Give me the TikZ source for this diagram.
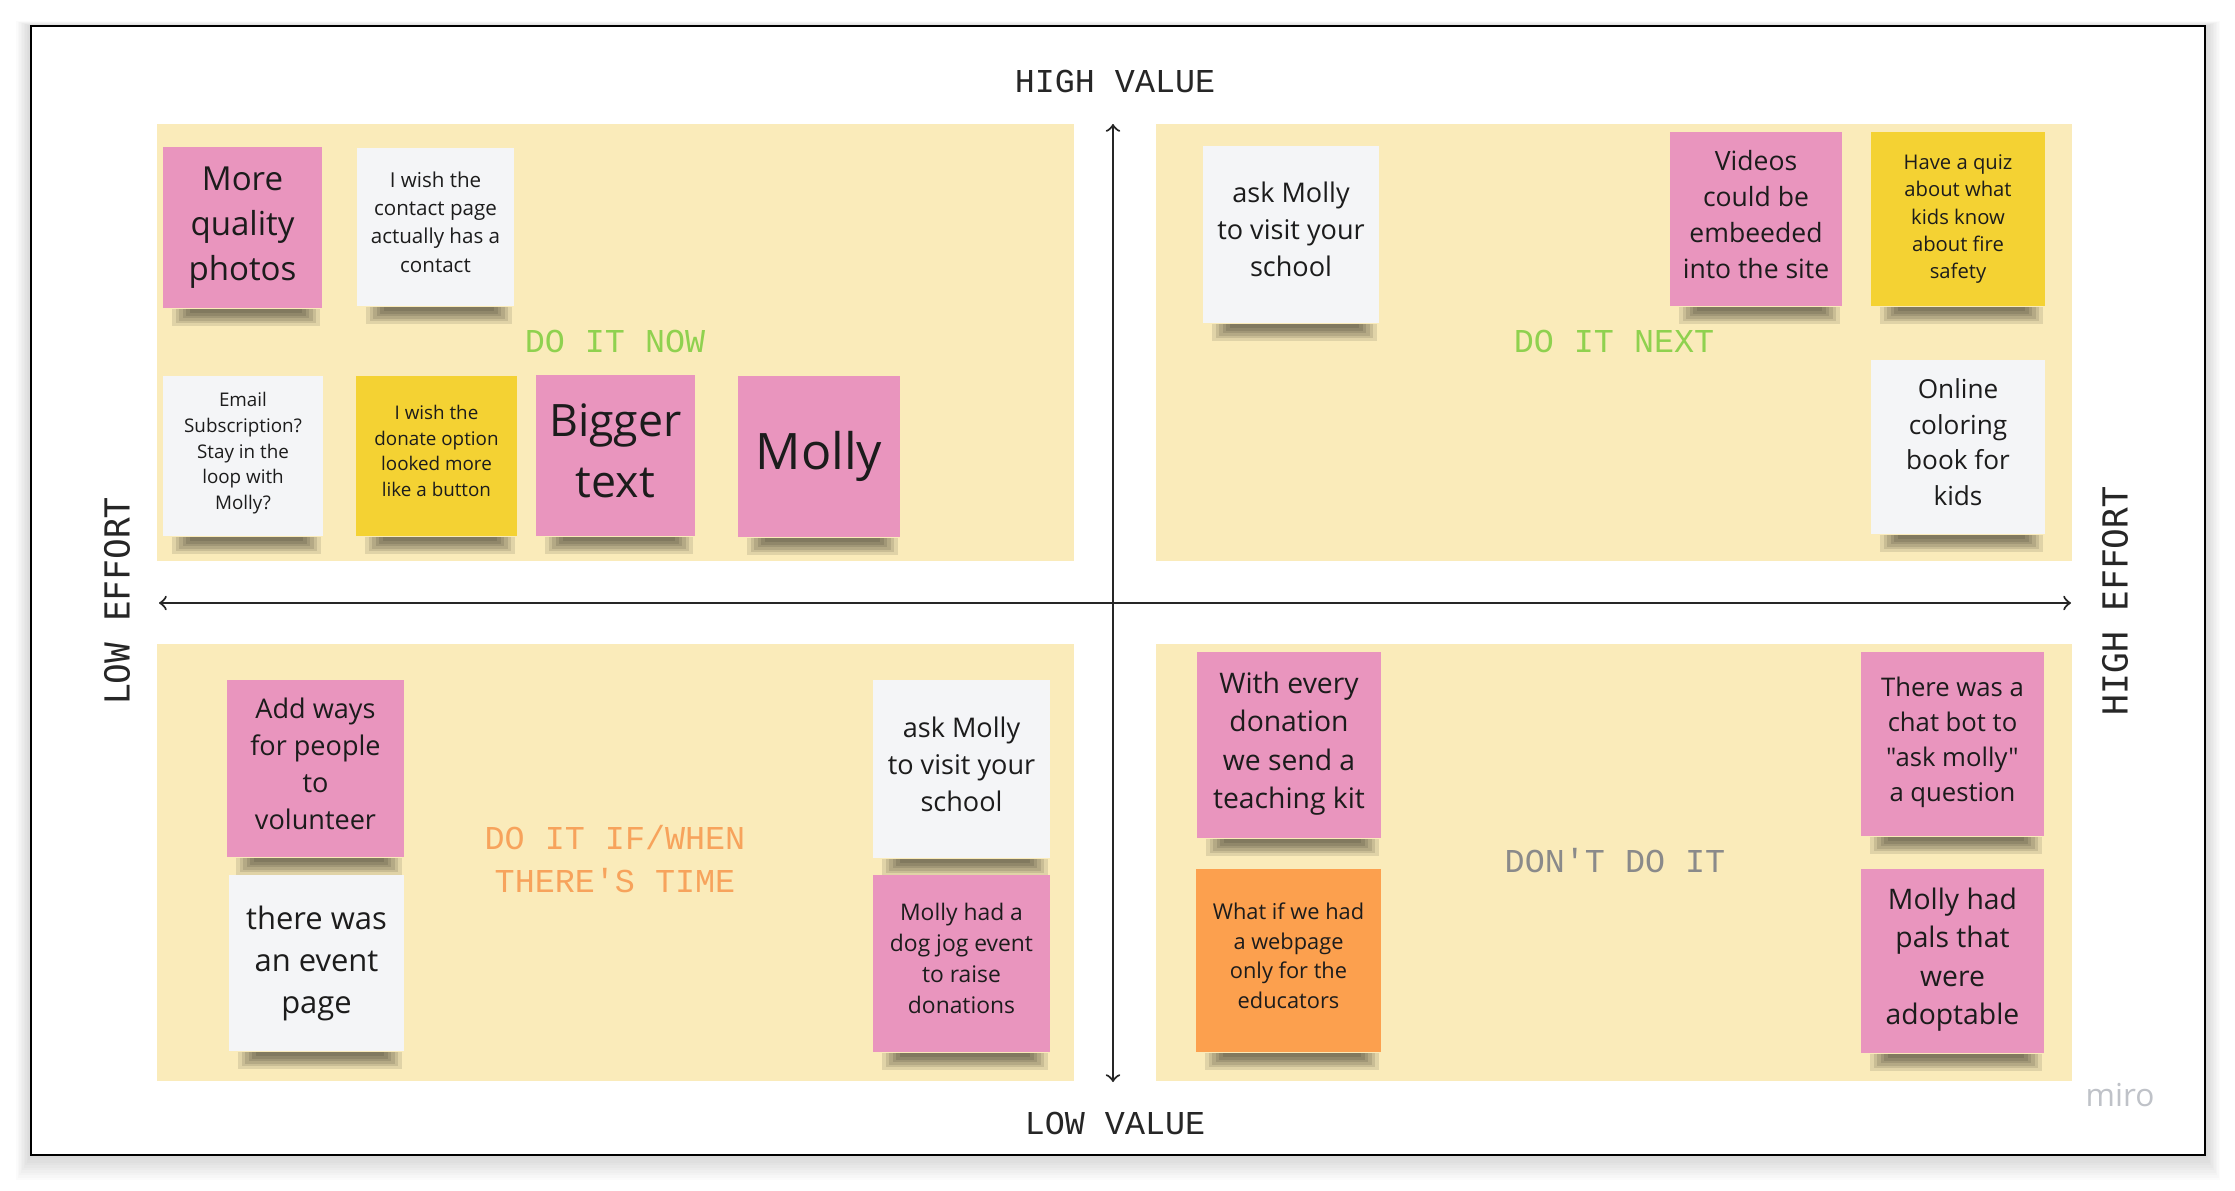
\documentclass[tikz,border=0pt]{standalone}
\usepackage{fontspec}
\setmainfont{Open Sans}[Ligatures=TeXOff]
\setmonofont{Liberation Mono}
\newfontfamily\effortfont{DejaVu Sans Mono}

\definecolor{quadbg}{HTML}{FAEBBA}
\definecolor{notepink}{HTML}{E995BE}
\definecolor{notewhite}{HTML}{F4F5F7}
\definecolor{noteyellow}{HTML}{F4D233}
\definecolor{noteorange}{HTML}{FCA04E}
\definecolor{notetext}{HTML}{1C1C1C}
\definecolor{nowgreen}{HTML}{8FD14F}
\definecolor{timeorange}{HTML}{F7A35C}
\definecolor{dontgray}{HTML}{8A8A8A}
\definecolor{mirogray}{HTML}{BFC2C8}

\pgfdeclarelayer{background}
\pgfdeclarelayer{shadow}
\pgfsetlayers{background,shadow,main}

% a little extra depth so the text sits a bit above the middle of the note
\newcommand{\lift}{\rule[-0.1cm]{0pt}{0pt}}

\tikzset{
  note/.style={inner sep=0pt, align=center, text=notetext},
  pinknote/.style={note, fill=notepink},
  whitenote/.style={note, fill=notewhite},
  yellownote/.style={note, fill=noteyellow},
  orangenote/.style={note, fill=noteorange},
  notesize/.style 2 args={minimum width=#1cm, minimum height=#2cm},
  notefont/.style 2 args={font=\fontsize{#1}{#2}\selectfont},
  quadlabel/.style={align=center, font=\ttfamily\fontsize{9.5}{12.2}\selectfont},
  axislabel/.style={text=black!85, font=\ttfamily\fontsize{9.5}{11}\selectfont},
  effortlabel/.style={text=black!85, rotate=90, font=\effortfont\fontsize{9.8}{11}\selectfont}
}

\begin{document}
\begin{tikzpicture}[x=0.01cm, y=-0.01cm]
  \useasboundingbox (0,0) rectangle (2235,1190);

  \begin{pgfonlayer}{background}
    % frame with soft shadow
    \foreach \s in {1,...,10}
      \fill[black, opacity=0.016] (31-1.5*\s,26-0.5*\s) rectangle (2205+1.5*\s,1155+2.5*\s);
    \draw[line width=0.5pt, fill=white] (31,26) rectangle (2205,1155);
    % quadrants
    \fill[quadbg] (157,124) rectangle (1074,561);
    \fill[quadbg] (1156,124) rectangle (2072,561);
    \fill[quadbg] (157,644) rectangle (1074,1081);
    \fill[quadbg] (1156,644) rectangle (2072,1081);
  \end{pgfonlayer}

  % axes
  \coordinate (vtop) at (1113,124);
  \coordinate (vbot) at (1113,1082);
  \coordinate (hleft) at (159,603);
  \coordinate (hright) at (2071,603);
  \draw[<->, line width=0.6pt, black!85] (vtop) -- (vbot);
  \draw[<->, line width=0.6pt, black!85] (hleft) -- (hright);

  \node[axislabel] (highvalue) at (1115,81) {HIGH VALUE};
  \node[axislabel] (lowvalue) at (1115,1123) {LOW VALUE};
  \node[effortlabel] (loweffort) at (117,601) {LOW EFFORT};
  \node[effortlabel] (higheffort) at (2115,601) {HIGH EFFORT};

  % quadrant titles
  \node[quadlabel, text=nowgreen] (donow) at (615,341) {DO IT NOW};
  \node[quadlabel, text=nowgreen] (donext) at (1614,341) {DO IT NEXT};
  \node[quadlabel, text=timeorange] (dotime) at (615,859) {DO IT IF/WHEN\\THERE'S TIME};
  \node[quadlabel, text=dontgray] (dont) at (1615,861) {DON'T DO IT};

  % do it now
  \node[pinknote, notesize={1.59}{1.61}, notefont={9.4}{12.8}] (photos) at (242.5,227.5) {More\\quality\\photos};
  \node[whitenote, notesize={1.57}{1.58}, notefont={5.85}{8.0}] (contact) at (435.5,227) {I wish the\\contact page\\actually has a\\contact\lift};
  \node[whitenote, notesize={1.60}{1.60}, notefont={5.35}{7.3}] (email) at (243,456) {Email\\Subscription?\\Stay in the\\loop with\\Molly?\lift};
  \node[yellownote, notesize={1.61}{1.60}, notefont={5.35}{7.3}] (donate) at (436.5,456) {I wish the\\donate option\\looked more\\like a button\lift};
  \node[pinknote, notesize={1.59}{1.61}, notefont={12.7}{17.4}] (bigger) at (615.5,455.5) {Bigger\\text\lift};
  \node[pinknote, notesize={1.62}{1.61}, notefont={14.3}{17}] (molly) at (819,456.5) {Molly};

  % do it next
  \node[whitenote, notesize={1.76}{1.77}, notefont={7.7}{10.5}] (visitA) at (1291,234.5) {ask Molly\\to visit your\\school\lift};
  \node[pinknote, notesize={1.72}{1.74}, notefont={7.55}{10.25}] (videos) at (1756,219) {Videos\\could be\\embeeded\\into the site\lift};
  \node[yellownote, notesize={1.74}{1.74}, notefont={5.75}{7.8}] (quiz) at (1958,219) {Have a quiz\\about what\\kids know\\about fire\\safety};
  \node[whitenote, notesize={1.74}{1.74}, notefont={7.45}{10.1}] (coloring) at (1958,447) {Online\\coloring\\book for\\kids\lift};

  % do it if/when there's time
  \node[pinknote, notesize={1.77}{1.77}, notefont={7.7}{10.5}] (volunteer) at (315.5,768.5) {Add ways\\for people\\to\\volunteer\lift};
  \node[whitenote, notesize={1.75}{1.76}, notefont={8.8}{11.95}] (event) at (316.5,963) {there was\\an event\\page};
  \node[whitenote, notesize={1.77}{1.78}, notefont={7.7}{10.5}] (visitB) at (961.5,769) {ask Molly\\to visit your\\school\lift};
  \node[pinknote, notesize={1.77}{1.77}, notefont={6.5}{8.8}] (dogjog) at (961.5,963.5) {Molly had a\\dog jog event\\to raise\\donations\lift};

  % don't do it
  \node[pinknote, notesize={1.84}{1.86}, notefont={8.05}{10.95}] (kit) at (1289,745) {With every\\donation\\we send a\\teaching kit\lift};
  \node[orangenote, notesize={1.85}{1.83}, notefont={6.2}{8.4}] (educators) at (1288.5,960.5) {What if we had\\a webpage\\only for the\\educators\lift};
  \node[pinknote, notesize={1.83}{1.84}, notefont={7.3}{9.95}] (chatbot) at (1952.5,744) {There was a\\chat bot to\\"ask molly"\\a question\lift};
  \node[pinknote, notesize={1.83}{1.84}, notefont={8.05}{10.95}] (pals) at (1952.5,961) {Molly had\\pals that\\were\\adoptable\lift};

  % note shadows
  \begin{pgfonlayer}{shadow}
    \foreach \n in {photos,contact,email,donate,bigger,molly,visitA,videos,quiz,coloring,volunteer,event,visitB,dogjog,kit,educators,chatbot,pals}
      \foreach \k in {0,...,5} {
        \pgfmathsetmacro\dl{0.1+0.035*\k}
        \pgfmathsetmacro\dr{-0.03-0.035*\k}
        \pgfmathsetmacro\dd{-0.17+0.025*\k}
        \fill[black, opacity=0.1] ([xshift=\dl cm]\n.south west) rectangle ([xshift=\dr cm, yshift=\dd cm]\n.south east);
      }
  \end{pgfonlayer}

  \node[text=mirogray, font=\fontsize{9}{10}\selectfont] (miro) at (2120,1095) {miro};
\end{tikzpicture}
\end{document}
